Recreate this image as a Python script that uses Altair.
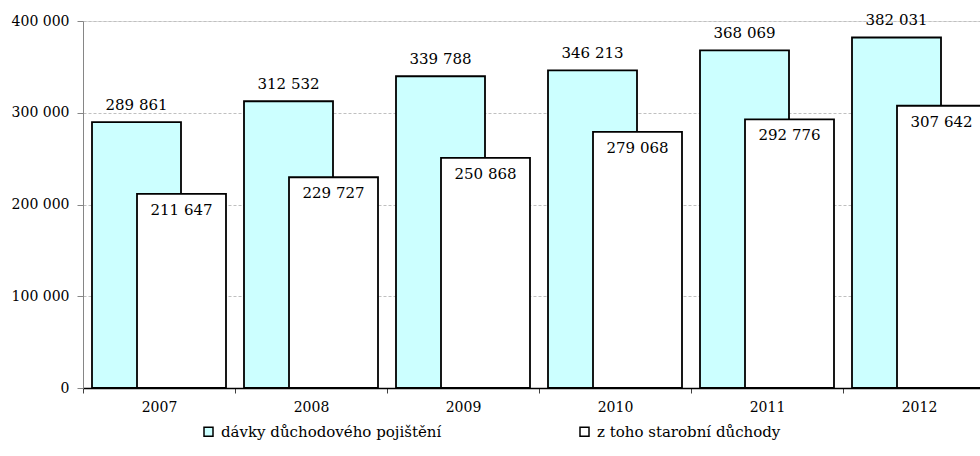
import altair as alt
import pandas as pd

# Pension insurance benefits by year (persons)
years = ["2007", "2008", "2009", "2010", "2011", "2012"]
pension_benefits = [289861, 312532, 339788, 346213, 368069, 382031]
old_age_pensions = [211647, 229727, 250868, 279068, 292776, 307642]
series_names = ["dávky důchodového pojištění", "z toho starobní důchody"]
series_fills = ["#CCFFFF", "#FFFFFF"]
y_ticks = [0, 100000, 200000, 300000, 400000]

df = pd.DataFrame({
    "rok": years * 2,
    "hodnota": pension_benefits + old_age_pensions,
    "serie": [series_names[0]] * len(years) + [series_names[1]] * len(years),
})

FONT = "DejaVu Serif"

x_enc = alt.X(
    "rok:N",
    sort=years,
    scale=alt.Scale(range=[0, 912], paddingInner=0, paddingOuter=0),
    axis=alt.Axis(
        title=None, labelAngle=0, tickBand="extent", grid=False,
        domainColor="#000000", domainWidth=1.5, tickColor="#404040",
        tickSize=5, labelPadding=7, labelFont=FONT, labelFontSize=14,
        labelColor="#000000",
    ),
)
y_enc = alt.Y(
    "hodnota:Q",
    scale=alt.Scale(domain=[0, 400000], nice=False),
    axis=alt.Axis(
        title=None, values=y_ticks, format=",d", grid=True,
        gridDash=[3, 2], gridColor="#c0c0c0", gridWidth=1,
        domainColor="#868686", tickColor="#868686", tickSize=6,
        labelPadding=8, labelFont=FONT, labelFontSize=14, labelColor="#000000",
    ),
)
color_enc = alt.Color(
    "serie:N",
    scale=alt.Scale(domain=series_names, range=series_fills),
    legend=alt.Legend(
        title=None, orient="none", direction="horizontal",
        legendX=118, legendY=403, padding=0,
        symbolType="square", symbolSize=81, symbolStrokeColor="#000000",
        symbolStrokeWidth=1.5, symbolOpacity=1, columnPadding=135,
        labelFont=FONT, labelFontSize=15, labelColor="#000000",
        labelLimit=400, labelOffset=5,
    ),
)

base = alt.Chart(df)
bar_style = dict(width=89, stroke="#000000", strokeWidth=1.8, opacity=1)

bars_total = base.transform_filter(alt.datum.serie == series_names[0]).mark_bar(
    xOffset=-22.5, **bar_style
).encode(x=x_enc, y=y_enc, color=color_enc)

bars_old_age = base.transform_filter(alt.datum.serie == series_names[1]).mark_bar(
    xOffset=22.5, **bar_style
).encode(x=x_enc, y=y_enc, color=color_enc)

text_style = dict(font=FONT, fontSize=15, color="#000000", baseline="alphabetic")

labels_total = base.transform_filter(alt.datum.serie == series_names[0]).mark_text(
    xOffset=-22.5, dy=-12, **text_style
).encode(x=x_enc, y=y_enc, text=alt.Text("hodnota:Q", format=",d"))

labels_old_age = base.transform_filter(alt.datum.serie == series_names[1]).mark_text(
    xOffset=22.5, dy=21, **text_style
).encode(x=x_enc, y=y_enc, text=alt.Text("hodnota:Q", format=",d"))

chart = alt.layer(
    bars_total, labels_total, bars_old_age, labels_old_age
).properties(
    width=897,
    height=367,
    autosize=alt.AutoSizeParams(type="none"),
    padding={"left": 83, "top": 21, "right": 0, "bottom": 68},
    background="#ffffff",
).configure_view(
    stroke=None
).configure(
    locale={"number": {"decimal": ",", "thousands": " ", "grouping": [3], "currency": ["", " Kč"]}}
)

chart.save("out.html", embed_options={"renderer": "svg", "actions": False})
